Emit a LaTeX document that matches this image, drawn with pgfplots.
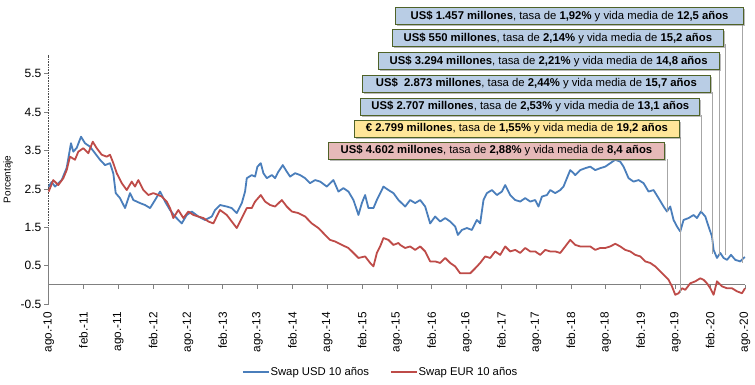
\documentclass[border=0pt]{standalone}
\usepackage{pgfplots}
\pgfplotsset{compat=1.18}
\usepackage{fontspec}
\setmainfont{Liberation Sans}
\usetikzlibrary{shadows}
\definecolor{usdblue}{HTML}{4A7EBB}
\definecolor{eurred}{HTML}{BE4B48}
\definecolor{boxblue}{HTML}{B9CDE5}
\definecolor{boxyellow}{HTML}{FFE699}
\definecolor{boxpink}{HTML}{E6B9B8}
\definecolor{boxedge}{HTML}{4F6228}
\definecolor{leader}{HTML}{A6A6A6}
\newcommand\f{\fontsize{11.3bp}{13.5bp}\selectfont}
\newcommand\fy{\fontsize{12bp}{14bp}\selectfont}
\newcommand\fx{\fontsize{11.8bp}{14bp}\selectfont}
\tikzset{
  note/.style={draw=boxedge, line width=0.9bp, minimum height=17bp, inner ysep=0pt, anchor=north east, font=\f,
    drop shadow={shadow xshift=1.5bp, shadow yshift=-1.5bp, fill=black!45, opacity=0.6}},
}
\begin{document}
\begin{tikzpicture}
\path[use as bounding box] (-48.7bp,-81bp) rectangle (706.3bp,304bp);
\begin{axis}[
  scale only axis, width=696.3bp, height=249.4bp,
  xmin=0, xmax=120, ymin=-0.5, ymax=6,
  clip=false,
  axis line style={draw=none},
  tick pos=left,
  tick align=outside,
  major tick length=4.7bp,
  xtick={0,6,...,120},
  xticklabels={ago.-10,feb.-11,ago.-11,feb.-12,ago.-12,feb.-13,ago.-13,feb.-14,ago.-14,feb.-15,ago.-15,feb.-16,ago.-16,feb.-17,ago.-17,feb.-18,ago.-18,feb.-19,ago.-19,feb.-20,ago.-20},
  xtick style={draw=none},
  xticklabel style={yshift=-3.3bp, rotate=90, anchor=east, inner sep=0pt, font=\fx},
  ytick={-0.5,0.5,1.5,2.5,3.5,4.5,5.5},
  yticklabels={-0.5,0.5,1.5,2.5,3.5,4.5,5.5},
  ytick style={draw=gray, line width=0.6bp},
  yticklabel style={font=\fy, inner xsep=2.5bp},
  ylabel={Porcentaje},
  ylabel style={font=\fy},
  every axis y label/.style={at={(axis description cs:-0.0584,0.5)}, rotate=90, anchor=center},
  legend style={draw=none, fill=none, at={(0.476,-0.273)}, anchor=center, font=\f,
    legend columns=2, /tikz/every even column/.append style={column sep=20bp},
    nodes={inner xsep=1bp, inner ysep=1bp}},
  legend cell align=left,
  legend image code/.code={\draw[#1, line width=1.5bp] (0bp,0bp) -- (26bp,0bp);},
]
\draw[gray, line width=0.8bp] (axis cs:0,0) -- (axis cs:120,0);
\pgfplotsinvokeforeach{0,6,...,120}{\draw[gray, line width=0.6bp] (axis cs:#1,0) -- (axis cs:#1,-0.11);}
\draw[black!70, densely dotted, line width=0.6bp] (axis cs:0,1.5) -- (axis cs:0,6);
\draw[gray, line width=0.8bp] (axis cs:0,-0.5) -- (axis cs:0,1.5);

\addplot[usdblue, line width=1.8bp, line join=round] coordinates {
(0,2.55)(0.5,2.68)(1.09,2.56)(2.24,2.73)(3.10,3.05)(3.84,3.69)(4.24,3.47)(4.83,3.57)(5.57,3.86)(6.26,3.69)(7.12,3.6)(7.98,3.43)(8.84,3.26)(9.71,3.12)(10.57,3.17)(11.14,2.9)(11.55,2.39)(12.29,2.26)(13.16,2.0)(14.02,2.39)(14.59,2.21)(15.74,2.13)(16.60,2.08)(17.47,2.0)(18.33,2.21)(19.19,2.43)(20.05,2.17)(20.91,1.95)(21.78,1.78)(22.93,1.6)(23.79,1.82)(24.66,1.91)(25.79,1.78)(26.95,1.69)(28.10,1.78)(28.67,1.95)(29.53,2.08)(30.69,2.04)(31.55,2.0)(32.41,1.87)(33.28,2.13)(33.84,2.43)(34.14,2.78)(35.0,2.86)(35.57,2.82)(35.97,3.08)(36.55,3.17)(37.0,2.91)(37.59,2.78)(38.45,2.86)(39.02,2.78)(39.59,2.95)(40.34,3.12)(41.03,2.95)(41.60,2.82)(42.47,2.91)(43.33,2.86)(44.19,2.78)(45.05,2.65)(45.91,2.73)(46.78,2.69)(47.93,2.56)(49.07,2.73)(49.93,2.43)(50.79,2.52)(51.66,2.43)(52.52,2.21)(53.10,1.95)(53.38,1.82)(53.97,2.13)(54.53,2.34)(55.10,2.0)(55.97,2.0)(56.55,2.21)(57.69,2.56)(58.55,2.47)(59.41,2.39)(60.28,2.21)(61.43,2.04)(62.29,2.21)(63.16,2.13)(64.02,2.21)(64.88,2.04)(65.74,1.6)(66.60,1.78)(67.47,1.65)(68.33,1.74)(69.19,1.65)(70.05,1.52)(70.52,1.3)(71.21,1.43)(72.07,1.48)(72.93,1.43)(73.79,1.69)(74.36,1.6)(74.93,2.21)(75.52,2.39)(76.38,2.47)(77.24,2.34)(78.10,2.43)(78.67,2.6)(79.53,2.34)(80.40,2.21)(81.26,2.17)(82.12,2.26)(82.98,2.17)(83.84,2.21)(84.41,2.04)(85.0,2.3)(85.86,2.34)(86.43,2.47)(87.29,2.39)(88.16,2.47)(88.72,2.56)(89.31,2.78)(89.88,2.99)(90.45,2.91)(90.74,2.86)(91.60,2.99)(92.47,3.04)(93.33,3.08)(94.19,2.99)(95.05,3.04)(95.91,3.08)(96.78,3.17)(97.64,3.26)(98.50,3.21)(99.07,3.08)(99.93,2.78)(100.79,2.69)(101.66,2.73)(102.52,2.65)(103.38,2.43)(104.24,2.47)(105.10,2.26)(105.97,2.04)(106.55,1.91)(107.12,2.04)(107.69,1.69)(108.28,1.52)(108.84,1.39)(109.41,1.69)(110.28,1.74)(111.14,1.82)(111.72,1.74)(112.41,1.91)(113.16,1.78)(113.72,1.52)(114.31,1.26)(114.59,0.91)(115.17,0.7)(115.74,0.83)(116.31,0.7)(116.90,0.65)(117.59,0.78)(118.33,0.65)(119.19,0.61)(119.76,0.7)(120,0.72)
};
\addlegendentry{Swap USD 10 años}
\addplot[eurred, line width=1.8bp, line join=round] coordinates {
(0,2.43)(0.79,2.73)(1.66,2.6)(2.52,2.78)(3.10,2.99)(3.67,3.34)(4.53,3.26)(5.10,3.47)(5.97,3.56)(6.83,3.43)(7.59,3.73)(8.28,3.56)(9.14,3.39)(10.0,3.34)(10.57,3.39)(11.14,3.17)(11.72,2.91)(12.59,2.65)(13.45,2.47)(14.31,2.69)(14.88,2.56)(15.45,2.73)(16.31,2.47)(17.17,2.34)(18.03,2.39)(18.90,2.34)(19.48,2.3)(20.34,2.17)(20.91,2.0)(21.48,1.74)(22.34,1.95)(23.21,1.74)(24.07,1.91)(24.93,1.82)(25.79,1.78)(26.66,1.74)(27.52,1.65)(28.38,1.6)(29.24,1.87)(29.53,1.95)(30.69,1.82)(31.55,1.65)(32.41,1.48)(33.28,1.74)(34.14,2.0)(35.0,2.0)(35.57,2.17)(36.55,2.34)(37.29,2.17)(38.16,2.08)(39.02,2.04)(40.17,2.21)(41.03,2.04)(41.90,1.91)(43.03,1.87)(44.19,1.78)(45.34,1.6)(46.48,1.48)(47.64,1.3)(48.50,1.17)(49.36,1.13)(50.52,1.04)(51.66,0.96)(52.52,0.83)(53.38,0.7)(54.53,0.74)(55.40,0.57)(55.97,0.48)(56.55,0.83)(57.12,1.0)(57.69,1.22)(58.55,1.17)(59.41,1.04)(60.28,1.09)(60.57,1.04)(61.43,0.96)(62.29,1.0)(63.16,0.91)(64.02,1.0)(64.88,0.87)(65.74,0.61)(66.60,0.61)(67.47,0.57)(68.33,0.7)(69.19,0.57)(70.05,0.48)(70.91,0.3)(71.78,0.3)(72.64,0.3)(73.50,0.43)(74.36,0.57)(75.22,0.74)(76.09,0.7)(76.95,0.87)(77.81,0.78)(78.67,1.0)(79.53,0.87)(80.40,0.91)(81.26,0.83)(82.12,0.96)(82.98,0.87)(83.84,0.87)(84.71,0.78)(85.57,0.91)(86.43,0.87)(87.29,0.87)(88.16,0.83)(89.02,1.0)(89.88,1.17)(90.74,1.04)(91.60,1.0)(92.47,1.0)(93.33,1.0)(94.19,0.91)(95.05,0.96)(95.91,0.96)(96.78,1.0)(97.64,1.07)(98.50,1.0)(99.36,0.91)(100.22,0.87)(101.09,0.78)(101.95,0.74)(102.81,0.61)(103.67,0.57)(104.53,0.48)(105.40,0.35)(106.26,0.22)(106.83,0.13)(107.41,-0.04)(107.98,-0.26)(108.55,-0.22)(109.14,-0.09)(109.71,-0.13)(110.57,0.04)(111.43,0.09)(112.29,0.17)(112.86,0.13)(113.45,0.04)(114.02,-0.09)(114.59,-0.26)(115.17,0.09)(116.03,-0.04)(116.90,-0.09)(117.76,-0.09)(118.62,-0.17)(119.48,-0.22)(120,-0.09)
};
\addlegendentry{Swap EUR 10 años}

% leader lines
\draw[leader, line width=0.9bp] (axis cs:119.48,6.79) -- (axis cs:119.48,0.57);
\draw[leader, line width=0.9bp] (axis cs:116.6,6.27) -- (axis cs:116.6,0.78);
\draw[leader, line width=0.9bp] (axis cs:115.6,5.6) -- (axis cs:115.6,0.74);
\draw[leader, line width=0.9bp] (axis cs:114.31,5.03) -- (axis cs:114.31,0.8);
\draw[leader, line width=0.9bp] (axis cs:112.41,4.43) -- (axis cs:112.41,1.91);
\draw[leader, line width=0.9bp] (axis cs:108.84,3.84) -- (axis cs:108.84,-0.22);
\draw[leader, line width=0.9bp] (axis cs:106.55,3.27) -- (axis cs:106.55,1.91);

% annotation boxes
\node[note, fill=boxblue, minimum width=347.6bp] at (axis cs:119.8,7.23) {\textbf{US\$ 1.457 millones}, tasa de \textbf{1,92\%} y vida media de \textbf{12,5 años}};
\node[note, fill=boxblue, minimum width=330.6bp] at (axis cs:116.31,6.66) {\textbf{US\$ 550 millones}, tasa de \textbf{2,14\%} y vida media de \textbf{15,2 años}};
\node[note, fill=boxblue, minimum width=341bp] at (axis cs:115.62,6.06) {\textbf{US\$ 3.294 millones}, tasa de \textbf{2,21\%} y vida media de \textbf{14,8 años}};
\node[note, fill=boxblue, minimum width=348.4bp] at (axis cs:114.14,5.47) {\textbf{US\$ \ 2.873 millones}, tasa de \textbf{2,44\%} y vida media de \textbf{15,7 años}};
\node[note, fill=boxblue, minimum width=339bp] at (axis cs:112.29,4.88) {\textbf{US\$ 2.707 millones}, tasa de \textbf{2,53\%} y vida media de \textbf{13,1 años}};
\node[note, fill=boxyellow, minimum width=325.7bp] at (axis cs:108.84,4.30) {\textbf{€ 2.799 millones}, tasa de \textbf{1,55\%} y vida media de \textbf{19,2 años}};
\node[note, fill=boxpink, minimum width=336.7bp] at (axis cs:106.26,3.73) {\textbf{US\$ 4.602 millones}, tasa de \textbf{2,88\%} y vida media de \textbf{8,4 años}};
\end{axis}
\end{tikzpicture}
\end{document}
